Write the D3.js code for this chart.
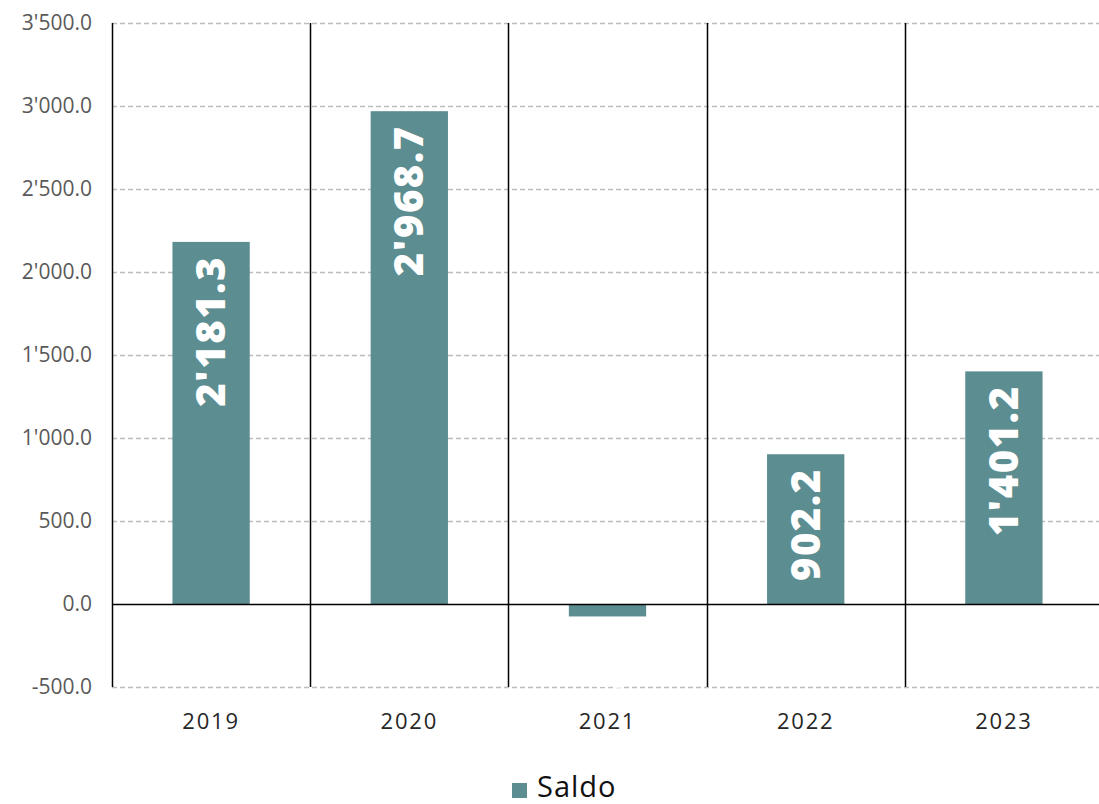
<!DOCTYPE html>
<html>
<head>
<meta charset="utf-8">
<script src="https://d3js.org/d3.v7.min.js"></script>
<style>
  body { margin: 0; background: #fff; }
  svg text { font-family: "Open Sans", Lato, sans-serif; }
</style>
</head>
<body>
<div id="chart"></div>
<script>
// data
const years = ["2019", "2020", "2021", "2022", "2023"];
const saldo = [2181.3, 2968.7, -75.0, 902.2, 1401.2];
const yTicks = [-500, 0, 500, 1000, 1500, 2000, 2500, 3000, 3500];
const seriesName = "Saldo";

const width = 1099, height = 804;
const margin = {top: 23, right: -4, bottom: 117, left: 112};
const barColor = "#5b8d91";

const locale = d3.formatLocale({decimal: ".", thousands: "'", grouping: [3], currency: ["", ""], minus: "-"});
const fmt = locale.format(",.1f");

const svg = d3.create("svg").attr("width", width).attr("height", height);

const x = d3.scaleBand()
  .domain(years)
  .range([margin.left, width - margin.right])
  .paddingInner(0)
  .paddingOuter(0);

const y = d3.scaleLinear()
  .domain([-500, 3500])
  .range([height - margin.bottom, margin.top]);

// dashed gridlines
svg.append("g")
  .selectAll("line")
  .data(yTicks.filter(d => d !== 0))
  .join("line")
  .attr("x1", margin.left)
  .attr("x2", width)
  .attr("y1", d => y(d) + 0.5)
  .attr("y2", d => y(d) + 0.5)
  .attr("stroke", "#bdbdbd")
  .attr("stroke-width", 1.3)
  .attr("stroke-dasharray", "5,3");

// y tick labels
svg.append("g")
  .selectAll("text")
  .data(yTicks)
  .join("text")
  .attr("x", 92)
  .attr("y", d => y(d))
  .attr("dy", "0.35em")
  .attr("text-anchor", "end")
  .attr("fill", "#595959")
  .attr("font-size", 21)
  .text(d => fmt(d));

// vertical category separators
const seps = years.map(d => x(d)).concat([x(years[years.length - 1]) + x.bandwidth()]);
svg.append("g")
  .selectAll("line")
  .data(seps)
  .join("line")
  .attr("x1", d => Math.round(d) + 0.5)
  .attr("x2", d => Math.round(d) + 0.5)
  .attr("y1", y(3500))
  .attr("y2", y(-500))
  .attr("stroke", "#000")
  .attr("stroke-width", 1.5);

// bars
const bw = x.bandwidth() * 0.39;
svg.append("g")
  .selectAll("rect")
  .data(years)
  .join("rect")
  .attr("x", d => x(d) + (x.bandwidth() - bw) / 2)
  .attr("width", bw)
  .attr("y", (d, i) => y(Math.max(0, saldo[i])))
  .attr("height", (d, i) => Math.abs(y(saldo[i]) - y(0)))
  .attr("fill", barColor);

// zero line
svg.append("line")
  .attr("x1", margin.left)
  .attr("x2", width)
  .attr("y1", y(0) + 0.5)
  .attr("y2", y(0) + 0.5)
  .attr("stroke", "#000")
  .attr("stroke-width", 1.5);

// value labels (rotated, white); the negative one sits below its bar
svg.append("g")
  .selectAll("text")
  .data(years)
  .join("text")
  .attr("transform", (d, i) => {
    const cx = x(d) + x.bandwidth() / 2 + 14;
    const v = saldo[i];
    const ty = v >= 0 ? y(v) + 14 : y(v) + 10;
    return `translate(${cx},${ty}) rotate(-90)`;
  })
  .attr("text-anchor", "end")
  .attr("fill", "#fff")
  .attr("font-size", 40)
  .attr("font-weight", 800)
  .attr("letter-spacing", 1.5)
  .text((d, i) => fmt(saldo[i]));

// x labels
svg.append("g")
  .selectAll("text")
  .data(years)
  .join("text")
  .attr("x", d => x(d) + x.bandwidth() / 2)
  .attr("y", 729)
  .attr("text-anchor", "middle")
  .attr("fill", "#262626")
  .attr("font-size", 22)
  .attr("letter-spacing", 1.8)
  .text(d => d);

// legend
const lg = svg.append("g");
lg.append("rect")
  .attr("x", 512).attr("y", 783)
  .attr("width", 15).attr("height", 15)
  .attr("fill", barColor);
lg.append("text")
  .attr("x", 537).attr("y", 797)
  .attr("fill", "#111")
  .attr("font-size", 29)
  .attr("letter-spacing", 1)
  .text(seriesName);

document.getElementById("chart").appendChild(svg.node());
</script>
</body>
</html>
